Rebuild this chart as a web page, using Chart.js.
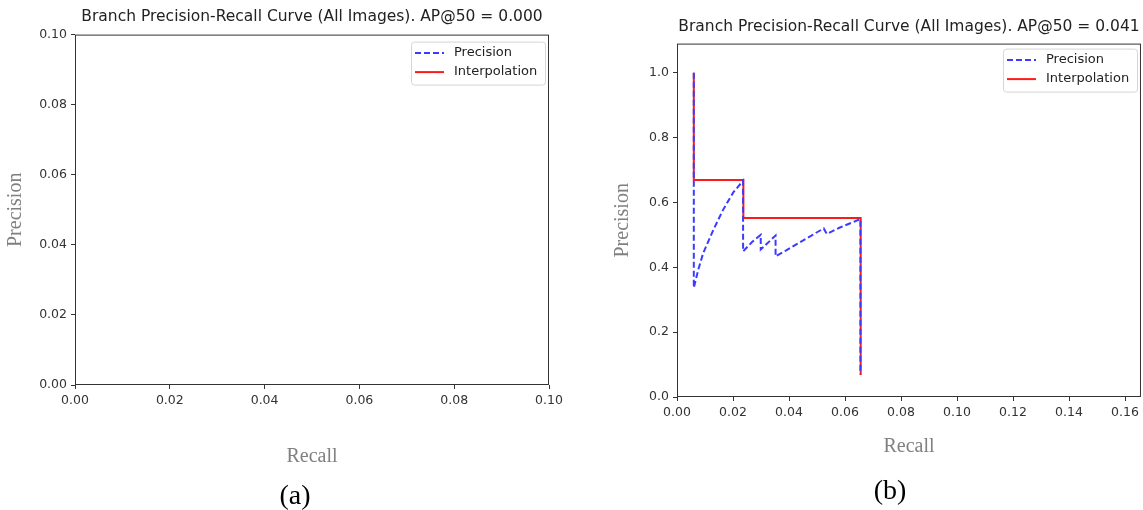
<!DOCTYPE html>
<html>
<head>
<meta charset="utf-8">
<script src="https://cdn.jsdelivr.net/npm/chart.js@4"></script>
<style>
  body { margin: 0; background: #fff; width: 1143px; height: 510px; position: relative; overflow: hidden; }
  .panel { position: absolute; top: 0; }
  .tag { position: absolute; font-family: 'Liberation Serif', serif; font-size: 28px; color: #000; transform: translate(-50%, -50%); }
</style>
</head>
<body>
<div class="panel" style="left:0"><canvas id="chartA" width="571" height="510"></canvas></div>
<div class="panel" style="left:571px"><canvas id="chartB" width="572" height="510"></canvas></div>
<div class="tag" style="left:295px; top:495px">(a)</div>
<div class="tag" style="left:890px; top:490px">(b)</div>
<script>
// panel (b) precision curve
const precRecall = [0.006, 0.006, 0.0076, 0.0094, 0.013, 0.0165, 0.0201, 0.0236, 0.0236, 0.0268, 0.0299, 0.0299, 0.033, 0.0352, 0.0352, 0.039, 0.044, 0.048, 0.0524, 0.0535, 0.058, 0.0655, 0.0655]
const precValues = [1.0, 0.337, 0.393, 0.445, 0.516, 0.578, 0.631, 0.667, 0.449, 0.478, 0.5, 0.455, 0.48, 0.498, 0.434, 0.452, 0.478, 0.498, 0.52, 0.503, 0.522, 0.549, 0.07]
// interpolated (step) precision
const interpRecall = [0.006, 0.006, 0.0237, 0.0237, 0.0656, 0.0656]
const interpValues = [1.0, 0.669, 0.669, 0.552, 0.552, 0.068]

const titleA = 'Branch Precision-Recall Curve (All Images). AP@50 = 0.000'
const titleB = 'Branch Precision-Recall Curve (All Images). AP@50 = 0.041'
const seriesLabels = ['Precision', 'Interpolation']

const toPoints = (xs, ys) => xs.map((x, i) => ({ x, y: ys[i] }))

Chart.defaults.font.family = 'DejaVu Sans'
Chart.defaults.color = '#333'

const axisTitleFont = { family: 'Liberation Serif', size: 20 }
const tickFont = { size: 12.5 }

// matplotlib-like box, legend in the top right corner
const frameAndLegend = {
  id: 'frameAndLegend',
  afterDraw(chart, args, opts) {
    const { ctx, chartArea } = chart
    ctx.save()
    ctx.strokeStyle = '#333'
    ctx.lineWidth = 1
    ctx.strokeRect(chartArea.left + 0.5, chartArea.top + 0.5, chartArea.width - 1, chartArea.height - 1)

    const w = 134, rowH = 19
    const h = 43
    const x = chartArea.right - opts.right - w
    const y = chartArea.top + opts.top
    ctx.fillStyle = 'rgba(255,255,255,0.85)'
    ctx.strokeStyle = '#d6d6d6'
    ctx.beginPath()
    ctx.roundRect(x + 0.5, y + 0.5, w, h, 3)
    ctx.fill()
    ctx.stroke()

    ctx.font = '13px "DejaVu Sans"'
    ctx.textBaseline = 'middle'
    chart.data.datasets.forEach((ds, i) => {
      const cy = y + 11.5 + i * rowH
      ctx.strokeStyle = ds.borderColor
      ctx.lineWidth = ds.borderWidth
      ctx.setLineDash(ds.borderDash || [])
      ctx.beginPath()
      ctx.moveTo(x + 4, cy)
      ctx.lineTo(x + 33, cy)
      ctx.stroke()
      ctx.setLineDash([])
      ctx.fillStyle = '#222'
      ctx.fillText(ds.label, x + 43, cy)
    })
    ctx.restore()
  },
}

function makeDatasets(withData) {
  return [
    {
      label: seriesLabels[0],
      data: withData ? toPoints(precRecall, precValues) : [],
      borderColor: '#3b3bff',
      borderWidth: 2,
      borderDash: [6, 3],
    },
    {
      label: seriesLabels[1],
      data: withData ? toPoints(interpRecall, interpValues) : [],
      borderColor: '#ff1a1a',
      borderWidth: 2,
    },
  ]
}

function makeOptions(cfg) {
  return {
    animation: false,
    responsive: false,
    layout: { padding: { left: 0, right: cfg.padRight, top: 0, bottom: 0 } },
    elements: { point: { radius: 0 }, line: { tension: 0 } },
    scales: {
      x: {
        type: 'linear',
        min: 0,
        max: cfg.xMax,
        border: { display: false },
        grid: { drawOnChartArea: false, drawTicks: true, tickLength: 4, tickColor: '#333' },
        ticks: { stepSize: 0.02, includeBounds: false, font: tickFont, padding: 4, maxRotation: 0, callback: v => v.toFixed(2) },
        title: { display: true, text: 'Recall', color: '#808080', font: axisTitleFont, padding: { top: 0, bottom: cfg.xTitlePad } },
        afterFit: s => { s.height = cfg.xHeight },
      },
      y: {
        type: 'linear',
        min: 0,
        max: cfg.yMax,
        border: { display: false },
        grid: { drawOnChartArea: false, drawTicks: true, tickLength: 4, tickColor: '#333' },
        ticks: { stepSize: cfg.yStep, includeBounds: false, font: tickFont, padding: 4, callback: v => v.toFixed(cfg.yDigits) },
        title: { display: true, text: 'Precision', color: '#808080', font: axisTitleFont, padding: { top: cfg.yTitlePad, bottom: 0 } },
        afterFit: s => { s.width = cfg.yWidth },
      },
    },
    plugins: {
      legend: { display: false },
      tooltip: { enabled: false },
      title: {
        display: true,
        text: cfg.title,
        fullSize: false,
        color: '#222',
        font: { size: 15.5, weight: 'normal' },
        padding: { top: cfg.titleTop, bottom: cfg.titleBottom },
      },
      frameAndLegend: cfg.legend,
    },
  }
}

new Chart(document.getElementById('chartA'), {
  type: 'line',
  data: { datasets: makeDatasets(false) },
  plugins: [frameAndLegend],
  options: makeOptions({
    title: titleA, xMax: 0.1, yMax: 0.1, yStep: 0.02, yDigits: 2,
    padRight: 22, xHeight: 125, yWidth: 75, xTitlePad: 41, yTitlePad: 4,
    titleTop: 8, titleBottom: 8,
    legend: { top: 7, right: 4 },
  }),
})

new Chart(document.getElementById('chartB'), {
  type: 'line',
  data: { datasets: makeDatasets(true) },
  plugins: [frameAndLegend],
  options: makeOptions({
    title: titleB, xMax: 0.1657, yMax: 1.09, yStep: 0.2, yDigits: 1,
    padRight: 2, xHeight: 113, yWidth: 106, xTitlePad: 51, yTitlePad: 40,
    titleTop: 18, titleBottom: 7,
    legend: { top: 5, right: 4 },
  }),
})
</script>
</body>
</html>
